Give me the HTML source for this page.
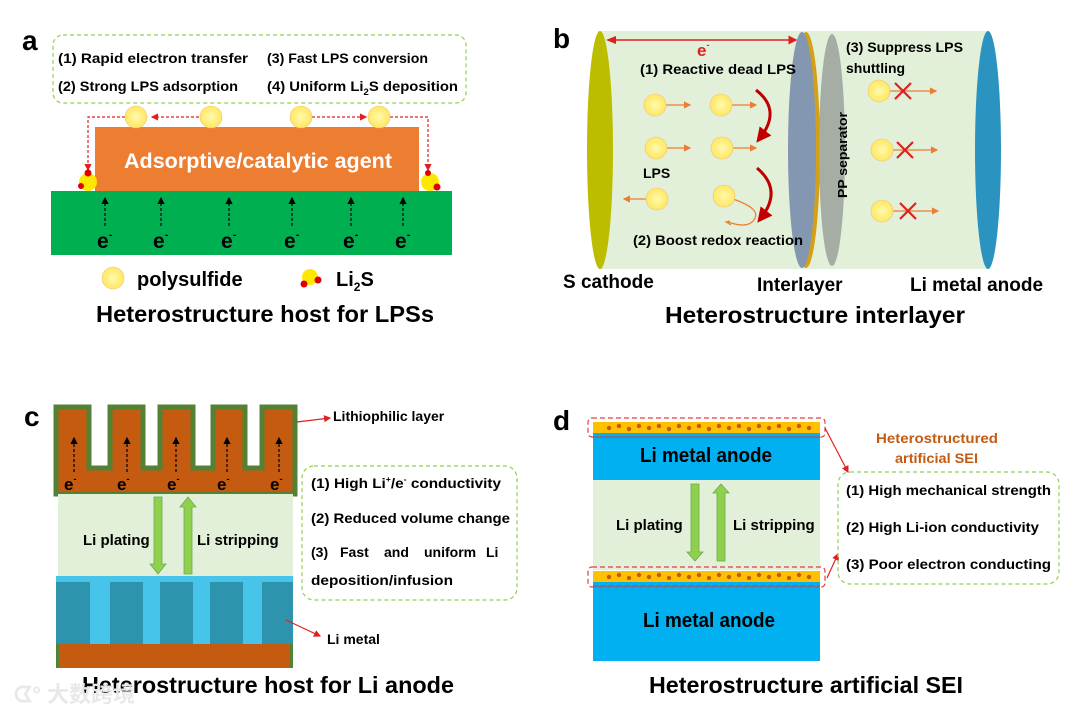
<!DOCTYPE html>
<html><head><meta charset="utf-8"><style>
html,body{margin:0;padding:0;background:#fff}
svg{display:block}
text{font-family:"Liberation Sans","Noto Sans CJK SC",sans-serif;font-weight:bold}
</style></head><body>
<svg width="1080" height="718" viewBox="0 0 1080 718" xmlns="http://www.w3.org/2000/svg">
<defs>
<marker id="ar" markerWidth="6" markerHeight="6" refX="5" refY="3" orient="auto"><path d="M0,0 L6,3 L0,6 z" fill="#e02020"/></marker>
<marker id="ak" markerWidth="6" markerHeight="6" refX="5" refY="3" orient="auto"><path d="M0,0 L6,3 L0,6 z" fill="#000"/></marker>
<marker id="ao" markerWidth="6" markerHeight="6" refX="5" refY="3" orient="auto"><path d="M0,0 L6,3 L0,6 z" fill="#ed7d31"/></marker>
<marker id="adr" markerWidth="5" markerHeight="5" refX="3" refY="2.5" orient="auto"><path d="M0,0 L5,2.5 L0,5 z" fill="#c00000"/></marker>
<radialGradient id="ps" cx="0.5" cy="0.5" r="0.5"><stop offset="0" stop-color="#fff9b0"/><stop offset="1" stop-color="#ffe860"/></radialGradient>
</defs>

<!-- ===== Panel a ===== -->
<text x="22" y="50" font-size="28">a</text>
<rect x="53" y="35" width="413" height="68" rx="10" fill="none" stroke="#92d050" stroke-width="1.2" stroke-dasharray="4,3"/>
<text x="58" y="63" font-size="14" textLength="190" lengthAdjust="spacingAndGlyphs">(1) Rapid electron transfer</text>
<text x="267" y="63" font-size="14" textLength="161" lengthAdjust="spacingAndGlyphs">(3) Fast LPS conversion</text>
<text x="58" y="91" font-size="14" textLength="180" lengthAdjust="spacingAndGlyphs">(2) Strong LPS adsorption</text>
<text x="267" y="91" font-size="14" textLength="191" lengthAdjust="spacingAndGlyphs">(4) Uniform Li<tspan font-size="9" dy="4">2</tspan><tspan dy="-4">S deposition</tspan></text>
<rect x="95" y="127" width="324" height="64" fill="#ed7d31"/>
<text x="258" y="168" font-size="21" fill="#fff" text-anchor="middle" textLength="268" lengthAdjust="spacingAndGlyphs">Adsorptive/catalytic agent</text>
<rect x="51" y="191" width="401" height="64" fill="#00b050"/>
<g stroke="#000" stroke-width="1.2" stroke-dasharray="3,2" marker-end="url(#ak)">
<line x1="105" y1="226" x2="105" y2="198"/><line x1="161" y1="226" x2="161" y2="198"/><line x1="229" y1="226" x2="229" y2="198"/><line x1="292" y1="226" x2="292" y2="198"/><line x1="351" y1="226" x2="351" y2="198"/><line x1="403" y1="226" x2="403" y2="198"/>
</g>
<g font-size="21"><text x="97" y="248">e<tspan font-size="11" dy="-10">-</tspan></text><text x="153" y="248">e<tspan font-size="11" dy="-10">-</tspan></text><text x="221" y="248">e<tspan font-size="11" dy="-10">-</tspan></text><text x="284" y="248">e<tspan font-size="11" dy="-10">-</tspan></text><text x="343" y="248">e<tspan font-size="11" dy="-10">-</tspan></text><text x="395" y="248">e<tspan font-size="11" dy="-10">-</tspan></text></g>
<g stroke="#e02020" stroke-width="1.2" stroke-dasharray="3,2" fill="none">
<polyline points="125,117 88,117 88,170" marker-end="url(#ar)"/>
<line x1="199" y1="117" x2="152" y2="117" marker-end="url(#ar)"/>
<line x1="312" y1="117" x2="366" y2="117" marker-end="url(#ar)"/>
<polyline points="390,117 428,117 428,170" marker-end="url(#ar)"/>
</g>
<g fill="url(#ps)" stroke="#f0c080" stroke-width="0.6"><circle cx="136" cy="117" r="11"/><circle cx="211" cy="117" r="11"/><circle cx="301" cy="117" r="11"/><circle cx="379" cy="117" r="11"/></g>
<g><circle cx="88" cy="182" r="9" fill="#ffe800"/><circle cx="88" cy="173" r="3.5" fill="#e00000"/><circle cx="81" cy="186" r="3" fill="#e00000"/>
<circle cx="430" cy="182" r="9" fill="#ffe800"/><circle cx="428" cy="173" r="3" fill="#e00000"/><circle cx="437" cy="187" r="3.5" fill="#e00000"/></g>
<circle cx="113" cy="278" r="11" fill="url(#ps)" stroke="#f0c080" stroke-width="0.6"/>
<text x="137" y="286" font-size="20">polysulfide</text>
<circle cx="310" cy="277" r="8" fill="#ffe800"/><circle cx="304" cy="284" r="3.5" fill="#e00000"/><circle cx="318" cy="280" r="3.5" fill="#e00000"/>
<text x="336" y="286" font-size="20">Li<tspan font-size="12" dy="5">2</tspan><tspan dy="-5">S</tspan></text>
<text x="265" y="322" font-size="23" text-anchor="middle" textLength="338" lengthAdjust="spacingAndGlyphs">Heterostructure host for LPSs</text>

<!-- ===== Panel b ===== -->
<text x="553" y="48" font-size="28">b</text>
<rect x="598" y="31" width="392" height="238" fill="#e2f0d9"/>
<ellipse cx="600" cy="150" rx="13" ry="119" fill="#bdbd00"/>
<ellipse cx="806" cy="150" rx="14" ry="118" fill="#d4a017"/>
<ellipse cx="802" cy="150" rx="14" ry="118" fill="#8497b0"/>
<ellipse cx="832" cy="150" rx="13" ry="116" fill="#a5ada5"/>
<text transform="translate(847,198) rotate(-90)" font-size="13" textLength="86" lengthAdjust="spacingAndGlyphs">PP separator</text>
<ellipse cx="988" cy="150" rx="13" ry="119" fill="#2b93bf"/>
<line x1="609" y1="40" x2="796" y2="40" stroke="#e02020" stroke-width="1.5" marker-end="url(#ar)"/>
<path d="M616,36 L606,40 L616,44 z" fill="#e02020"/>
<text x="697" y="56" font-size="17" fill="#e02020">e<tspan font-size="9" dy="-8">-</tspan></text>
<text x="640" y="74" font-size="14" textLength="156" lengthAdjust="spacingAndGlyphs">(1) Reactive dead LPS</text>
<g stroke="#ed7d31" stroke-width="1.2" marker-end="url(#ao)">
<line x1="666" y1="105" x2="690" y2="105"/><line x1="732" y1="105" x2="756" y2="105"/>
<line x1="667" y1="148" x2="690" y2="148"/><line x1="733" y1="148" x2="756" y2="148"/>
<line x1="646" y1="199" x2="624" y2="199"/>
<line x1="888" y1="91" x2="936" y2="91"/><line x1="891" y1="150" x2="937" y2="150"/><line x1="891" y1="211" x2="938" y2="211"/>
</g>
<path d="M733,199 Q765,210 752,222 Q745,228 728,222" fill="none" stroke="#ed7d31" stroke-width="1.2"/>
<path d="M730,221 L726,222 L731,225" fill="none" stroke="#ed7d31" stroke-width="1.2"/>
<g fill="url(#ps)" stroke="#f0c080" stroke-width="0.6">
<circle cx="655" cy="105" r="11"/><circle cx="721" cy="105" r="11"/><circle cx="656" cy="148" r="11"/><circle cx="722" cy="148" r="11"/><circle cx="657" cy="199" r="11"/><circle cx="724" cy="196" r="11"/>
<circle cx="879" cy="91" r="11"/><circle cx="882" cy="150" r="11"/><circle cx="882" cy="211" r="11"/></g>
<path d="M756,90 Q782,110 760,138" fill="none" stroke="#c00000" stroke-width="3" marker-end="url(#adr)"/>
<path d="M757,168 Q783,190 761,218" fill="none" stroke="#c00000" stroke-width="3" marker-end="url(#adr)"/>
<text x="643" y="178" font-size="14">LPS</text>
<text x="633" y="245" font-size="14" textLength="170" lengthAdjust="spacingAndGlyphs">(2) Boost redox reaction</text>
<text x="846" y="52" font-size="14" textLength="117" lengthAdjust="spacingAndGlyphs">(3) Suppress LPS</text>
<text x="846" y="73" font-size="14">shuttling</text>
<g stroke="#e02020" stroke-width="2.2"><path d="M895,83 L911,99 M911,83 L895,99"/><path d="M897,142 L913,158 M913,142 L897,158"/><path d="M900,203 L916,219 M916,203 L900,219"/></g>
<text x="563" y="288" font-size="19">S cathode</text>
<text x="757" y="291" font-size="19">Interlayer</text>
<text x="910" y="291" font-size="19">Li metal anode</text>
<text x="815" y="323" font-size="23" text-anchor="middle" textLength="300" lengthAdjust="spacingAndGlyphs">Heterostructure interlayer</text>

<!-- ===== Panel c ===== -->
<text x="24" y="426" font-size="28">c</text>
<path d="M56,407 H89 V468 H110 V407 H143 V468 H160 V407 H193 V468 H213 V407 H245 V468 H262 V407 H295 V494 H56 Z" fill="#c55a11" stroke="#548235" stroke-width="5"/>
<g stroke="#000" stroke-width="1.2" stroke-dasharray="3,2" marker-end="url(#ak)">
<line x1="74" y1="472" x2="74" y2="438"/><line x1="127" y1="472" x2="127" y2="438"/><line x1="176" y1="472" x2="176" y2="438"/><line x1="227" y1="472" x2="227" y2="438"/><line x1="279" y1="472" x2="279" y2="438"/></g>
<g font-size="17"><text x="64" y="490">e<tspan font-size="9" dy="-8">-</tspan></text><text x="117" y="490">e<tspan font-size="9" dy="-8">-</tspan></text><text x="167" y="490">e<tspan font-size="9" dy="-8">-</tspan></text><text x="217" y="490">e<tspan font-size="9" dy="-8">-</tspan></text><text x="270" y="490">e<tspan font-size="9" dy="-8">-</tspan></text></g>
<rect x="58" y="494" width="235" height="82" fill="#e2f0d9"/>
<path d="M154,497 L162,497 L162,564 L166,564 L158,574 L150,564 L154,564 Z" fill="#8fd14f" stroke="#6aa84f" stroke-width="0.8"/>
<path d="M184,574 L192,574 L192,507 L196,507 L188,497 L180,507 L184,507 Z" fill="#8fd14f" stroke="#6aa84f" stroke-width="0.8"/>
<text x="83" y="545" font-size="15">Li plating</text>
<text x="197" y="545" font-size="15">Li stripping</text>
<rect x="56" y="576" width="237" height="68" fill="#2e94ae"/>
<rect x="56" y="576" width="237" height="6" fill="#46c4ea"/>
<g fill="#46c4ea"><rect x="90" y="582" width="20" height="62"/><rect x="143" y="582" width="17" height="62"/><rect x="193" y="582" width="17" height="62"/><rect x="243" y="582" width="19" height="62"/></g>
<rect x="56" y="644" width="237" height="24" fill="#c55a11"/>
<rect x="56" y="644" width="3" height="24" fill="#548235"/><rect x="290" y="644" width="3" height="24" fill="#548235"/>
<line x1="297" y1="422" x2="330" y2="418" stroke="#e02020" stroke-width="1.2" marker-end="url(#ar)"/>
<text x="333" y="421" font-size="14">Lithiophilic layer</text>
<line x1="286" y1="620" x2="320" y2="636" stroke="#e02020" stroke-width="1.2" marker-end="url(#ar)"/>
<text x="327" y="644" font-size="14">Li metal</text>
<rect x="302" y="466" width="215" height="134" rx="12" fill="none" stroke="#92d050" stroke-width="1.2" stroke-dasharray="4,3"/>
<text x="311" y="488" font-size="14" textLength="190" lengthAdjust="spacingAndGlyphs">(1) High Li<tspan font-size="8" dy="-6">+</tspan><tspan dy="6">/e</tspan><tspan font-size="8" dy="-6">-</tspan><tspan dy="6"> conductivity</tspan></text>
<text x="311" y="523" font-size="14" textLength="199" lengthAdjust="spacingAndGlyphs">(2) Reduced volume change</text>
<g font-size="14"><text x="311" y="557">(3)</text><text x="340" y="557">Fast</text><text x="384" y="557">and</text><text x="424" y="557">uniform</text><text x="486" y="557">Li</text></g>
<text x="311" y="585" font-size="14" textLength="142" lengthAdjust="spacingAndGlyphs">deposition/infusion</text>
<text x="268" y="693" font-size="23" text-anchor="middle" textLength="372" lengthAdjust="spacingAndGlyphs">Heterostructure host for Li anode</text>
<text x="14" y="702" font-size="22" fill="#e8e8e8" font-weight="normal">ᗧ° 大数跨境</text>

<!-- ===== Panel d ===== -->
<text x="553" y="430" font-size="28">d</text>
<rect x="593" y="422" width="227" height="11" fill="#ffc000"/>
<rect x="593" y="433" width="227" height="4" fill="#00b0f0"/>
<rect x="593" y="437" width="227" height="43" fill="#00b0f0"/>
<rect x="593" y="480" width="227" height="90" fill="#e2f0d9"/>
<rect x="593" y="571" width="227" height="11" fill="#ffc000"/>
<rect x="593" y="582" width="227" height="79" fill="#00b0f0"/>
<g fill="#c55a11">
<circle cx="609" cy="428" r="2.2"/><circle cx="619" cy="426" r="2.2"/><circle cx="629" cy="429" r="2.2"/><circle cx="639" cy="426" r="2.2"/><circle cx="649" cy="428" r="2.2"/><circle cx="659" cy="426" r="2.2"/><circle cx="669" cy="429" r="2.2"/><circle cx="679" cy="426" r="2.2"/><circle cx="689" cy="428" r="2.2"/><circle cx="699" cy="426" r="2.2"/><circle cx="709" cy="429" r="2.2"/><circle cx="719" cy="426" r="2.2"/><circle cx="729" cy="428" r="2.2"/><circle cx="739" cy="426" r="2.2"/><circle cx="749" cy="429" r="2.2"/><circle cx="759" cy="426" r="2.2"/><circle cx="769" cy="428" r="2.2"/><circle cx="779" cy="426" r="2.2"/><circle cx="789" cy="429" r="2.2"/><circle cx="799" cy="426" r="2.2"/><circle cx="809" cy="428" r="2.2"/>
<circle cx="609" cy="577" r="2.2"/><circle cx="619" cy="575" r="2.2"/><circle cx="629" cy="578" r="2.2"/><circle cx="639" cy="575" r="2.2"/><circle cx="649" cy="577" r="2.2"/><circle cx="659" cy="575" r="2.2"/><circle cx="669" cy="578" r="2.2"/><circle cx="679" cy="575" r="2.2"/><circle cx="689" cy="577" r="2.2"/><circle cx="699" cy="575" r="2.2"/><circle cx="709" cy="578" r="2.2"/><circle cx="719" cy="575" r="2.2"/><circle cx="729" cy="577" r="2.2"/><circle cx="739" cy="575" r="2.2"/><circle cx="749" cy="578" r="2.2"/><circle cx="759" cy="575" r="2.2"/><circle cx="769" cy="577" r="2.2"/><circle cx="779" cy="575" r="2.2"/><circle cx="789" cy="578" r="2.2"/><circle cx="799" cy="575" r="2.2"/><circle cx="809" cy="577" r="2.2"/></g>
<g fill="none" stroke="#e04040" stroke-width="1.2" stroke-dasharray="5,3">
<rect x="588" y="418" width="237" height="19" rx="4"/><rect x="588" y="567" width="237" height="20" rx="4"/></g>
<line x1="593" y1="437" x2="820" y2="437" stroke="#7060a0" stroke-width="1.2" stroke-dasharray="5,3"/>
<line x1="593" y1="586" x2="820" y2="586" stroke="#7060a0" stroke-width="1.2" stroke-dasharray="5,3"/>
<text x="706" y="462" font-size="20" text-anchor="middle" textLength="132" lengthAdjust="spacingAndGlyphs">Li metal anode</text>
<text x="709" y="627" font-size="20" text-anchor="middle" textLength="132" lengthAdjust="spacingAndGlyphs">Li metal anode</text>
<path d="M691,484 L699,484 L699,552 L703,552 L695,561 L687,552 L691,552 Z" fill="#8fd14f" stroke="#6aa84f" stroke-width="0.8"/>
<path d="M717,561 L725,561 L725,493 L729,493 L721,484 L713,493 L717,493 Z" fill="#8fd14f" stroke="#6aa84f" stroke-width="0.8"/>
<text x="616" y="530" font-size="15">Li plating</text>
<text x="733" y="530" font-size="15">Li stripping</text>
<text x="876" y="443" font-size="14" fill="#c55a11" textLength="122" lengthAdjust="spacingAndGlyphs">Heterostructured</text>
<text x="895" y="463" font-size="14" fill="#c55a11" textLength="83" lengthAdjust="spacingAndGlyphs">artificial SEI</text>
<line x1="825" y1="428" x2="848" y2="472" stroke="#e02020" stroke-width="1.2" marker-end="url(#ar)"/>
<line x1="827" y1="578" x2="838" y2="554" stroke="#e02020" stroke-width="1.2" marker-end="url(#ar)"/>
<rect x="838" y="472" width="221" height="112" rx="12" fill="none" stroke="#92d050" stroke-width="1.2" stroke-dasharray="4,3"/>
<text x="846" y="495" font-size="14" textLength="205" lengthAdjust="spacingAndGlyphs">(1) High mechanical strength</text>
<text x="846" y="532" font-size="14" textLength="193" lengthAdjust="spacingAndGlyphs">(2) High Li-ion conductivity</text>
<text x="846" y="569" font-size="14" textLength="205" lengthAdjust="spacingAndGlyphs">(3) Poor electron conducting</text>
<text x="806" y="693" font-size="23" text-anchor="middle" textLength="314" lengthAdjust="spacingAndGlyphs">Heterostructure artificial SEI</text>
</svg>
</body></html>
